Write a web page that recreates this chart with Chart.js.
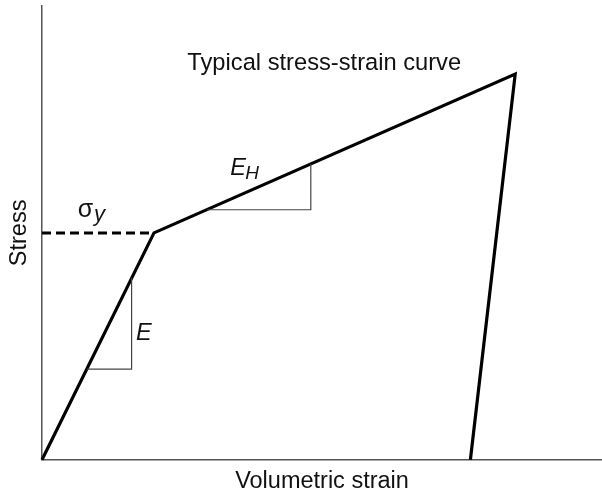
<!DOCTYPE html>
<html lang="en">
<head>
    <meta charset="UTF-8">
    <title>Typical stress-strain curve</title>
    <style>
        html, body { margin: 0; padding: 0; background: #fff; }
        #wrap { width: 602px; height: 493px; }
    </style>
</head>
<body>
    <div id="wrap">
        <canvas id="myChart" width="602" height="493"></canvas>
    </div>
    <script src="https://cdn.jsdelivr.net/npm/chart.js@4.4.1/dist/chart.umd.min.js"></script>
    <script>
        // curve: loading, hardening, unloading (strain, stress)
        var curveStrain = [0, 20, 84.5, 76.5];
        var curveStress = [0, 50, 85, 0];

        // yield level, dashed back to the stress axis
        var yieldStrain = [0, 20];
        var yieldStress = [50, 50];

        // slope triangles
        var eTriStrain = [8, 16, 16];
        var eTriStress = [20, 20, 40];
        var ehTriStrain = [29.5, 48, 48];
        var ehTriStress = [55.1, 55.1, 65.2];

        var axisMin = 0, axisMax = 100;

        function pts(xs, ys) {
            var arr = [];
            for (var i = 0; i < xs.length; i++) {
                arr.push({ x: xs[i], y: ys[i] });
            }
            return arr;
        }

        // text labels placed in data units
        var notes = [
            { text: 'Typical stress-strain curve', x: 50.4, y: 86.0, font: '23.7px "Liberation Sans", Arial, sans-serif', align: 'center' },
            { text: '\u03c3', x: 6.4, y: 53.4, font: '25px "Liberation Sans", Arial, sans-serif', align: 'left' },
            { text: 'y', x: 9.3, y: 52.6, font: 'italic 22px "Liberation Sans", Arial, sans-serif', align: 'left' },
            { text: 'E', x: 16.8, y: 26.3, font: 'italic 23.5px "Liberation Sans", Arial, sans-serif', align: 'left' },
            { text: 'E', x: 33.6, y: 62.7, font: 'italic 23.5px "Liberation Sans", Arial, sans-serif', align: 'left' },
            { text: 'H', x: 36.3, y: 61.8, font: 'italic 19px "Liberation Sans", Arial, sans-serif', align: 'left' }
        ];

        var notePlugin = {
            id: 'notes',
            afterDatasetsDraw: function(chart) {
                var ctx = chart.ctx;
                var xs = chart.scales.x, ys = chart.scales.y;
                ctx.save();
                ctx.fillStyle = '#111';
                ctx.textBaseline = 'alphabetic';
                notes.forEach(function(n) {
                    ctx.font = n.font;
                    ctx.textAlign = n.align;
                    ctx.fillText(n.text, xs.getPixelForValue(n.x), ys.getPixelForValue(n.y));
                });
                ctx.restore();
            }
        };

        var lineBase = { showLine: true, pointRadius: 0, tension: 0, fill: false, clip: false };

        var ctx = document.getElementById('myChart').getContext('2d');
        var myChart = new Chart(ctx, {
            type: 'scatter',
            data: {
                datasets: [
                    Object.assign({}, lineBase, { data: pts(eTriStrain, eTriStress), borderColor: '#444', borderWidth: 1.2 }),
                    Object.assign({}, lineBase, { data: pts(ehTriStrain, ehTriStress), borderColor: '#444', borderWidth: 1.2 }),
                    Object.assign({}, lineBase, { data: pts(yieldStrain, yieldStress), borderColor: '#000', borderWidth: 3, borderDash: [9, 5] }),
                    Object.assign({}, lineBase, { data: pts(curveStrain, curveStress), borderColor: '#000', borderWidth: 3.2 })
                ]
            },
            options: {
                responsive: false,
                animation: false,
                layout: { padding: { top: 6, right: 0, bottom: 0, left: 0 } },
                plugins: {
                    legend: { display: false },
                    tooltip: { enabled: false }
                },
                scales: {
                    x: {
                        type: 'linear',
                        min: axisMin,
                        max: axisMax,
                        ticks: { display: false },
                        grid: { display: false, drawTicks: false },
                        border: { color: '#555', width: 1.5 },
                        title: {
                            display: true,
                            text: 'Volumetric strain',
                            color: '#111',
                            font: { family: '"Liberation Sans", Arial, sans-serif', size: 23.5 },
                            padding: { top: 8, bottom: -3 }
                        }
                    },
                    y: {
                        type: 'linear',
                        min: axisMin,
                        max: axisMax,
                        ticks: { display: false },
                        grid: { display: false, drawTicks: false },
                        border: { color: '#555', width: 1.5 },
                        title: {
                            display: true,
                            text: 'Stress',
                            color: '#111',
                            font: { family: '"Liberation Sans", Arial, sans-serif', size: 23.5 },
                            padding: { top: 5.5, bottom: 8.3 }
                        }
                    }
                }
            },
            plugins: [notePlugin]
        });
    </script>
</body>
</html>
